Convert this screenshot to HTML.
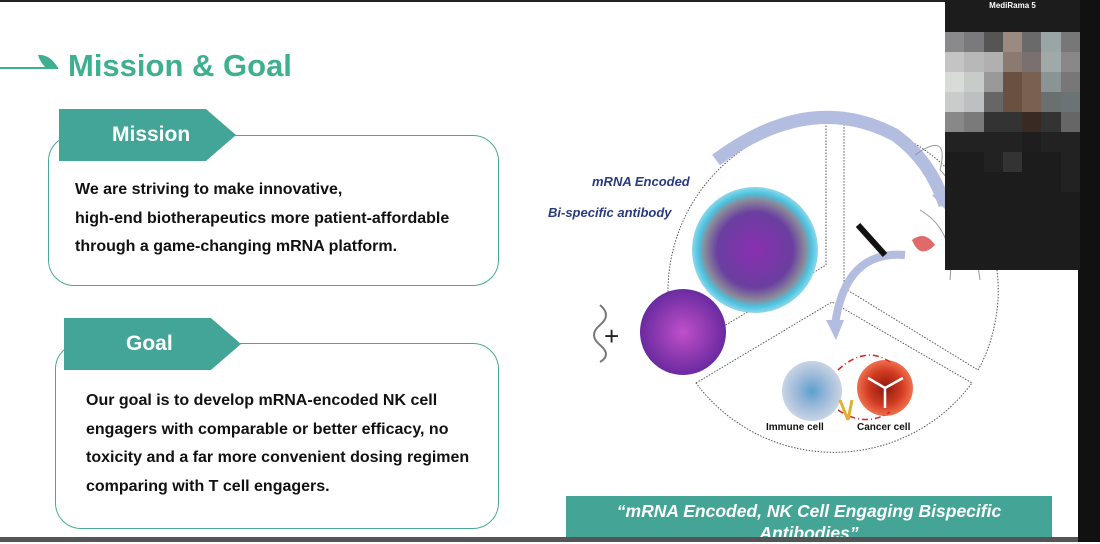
<!DOCTYPE html>
<html><head><meta charset="utf-8"><style>
*{margin:0;padding:0;box-sizing:border-box}
body{width:1100px;height:542px;overflow:hidden;background:#fff;position:relative;font-family:"Liberation Sans",sans-serif}
.abs{position:absolute}
.box{position:absolute;border:1.5px solid #4aa898;border-radius:26px}
.tag{position:absolute;background:#42a597;color:#fff;font-weight:bold;font-size:21px;clip-path:polygon(0 0,83% 0,100% 50%,83% 100%,0 100%);box-shadow:0 2px 4px rgba(0,0,0,.2)}
.txt{position:absolute;font-weight:bold;font-size:16px;color:#111;line-height:28.5px;white-space:nowrap}
</style></head><body>
<div class="abs" style="left:0;top:0;width:1100px;height:2px;background:#222"></div>
<div class="abs" style="left:0;top:67px;width:58px;height:2px;background:#3fb08f"></div>
<svg class="abs" style="left:36px;top:52px" width="24" height="18"><path d="M2 3 Q14 2 22 16 L10 16 Q4 10 2 3Z" fill="#3fb08f"/></svg>
<div class="abs" style="left:68px;top:48px;font-size:31px;font-weight:bold;color:#3fb08f">Mission &amp; Goal</div>

<div class="box" style="left:48px;top:135px;width:451px;height:151px"></div>
<div class="tag" style="left:59px;top:109px;width:177px;height:52px;line-height:52px;padding-left:53px">Mission</div>
<div class="txt" style="left:75px;top:176px">We are striving to make innovative,<br>high-end biotherapeutics more patient-affordable<br>through a game-changing mRNA platform.</div>

<div class="box" style="left:55px;top:343px;width:444px;height:186px"></div>
<div class="tag" style="left:64px;top:318px;width:177px;height:52px;line-height:52px;padding-left:62px">Goal</div>
<div class="txt" style="left:86px;top:387px">Our goal is to develop mRNA-encoded NK cell<br>engagers with comparable or better efficacy, no<br>toxicity and a far more convenient dosing regimen<br>comparing with T cell engagers.</div>

<svg class="abs" style="left:560px;top:100px" width="540" height="400">
<defs>
<radialGradient id="lnp"><stop offset="0" stop-color="#8a2fb0"/><stop offset=".6" stop-color="#6a3fa0"/><stop offset=".8" stop-color="#8a8a9a"/><stop offset=".9" stop-color="#4cc3e0"/><stop offset="1" stop-color="#8fd8ea"/></radialGradient>
<radialGradient id="np"><stop offset="0" stop-color="#c050c8"/><stop offset="1" stop-color="#6a2aa0"/></radialGradient>
<radialGradient id="im"><stop offset="0" stop-color="#5aa0d0"/><stop offset=".5" stop-color="#9ab8d8"/><stop offset="1" stop-color="#c8d4e4"/></radialGradient>
<radialGradient id="ca"><stop offset="0" stop-color="#8a1a10"/><stop offset=".6" stop-color="#d03a20"/><stop offset="1" stop-color="#f07050"/></radialGradient>
</defs>
<g fill="none" stroke="#555" stroke-width="1" stroke-dasharray="1.5 1.5">
<path d="M266 20 A172 172 0 0 0 108 192 Q110 230 124 250 L266 165 Z"/>
<path d="M284 20 A172 172 0 0 1 438 200 Q435 240 418 270 L284 188 Z"/>
<path d="M136 283 L272 202 L412 283 A172 172 0 0 1 136 283 Z"/>
</g>
<path d="M156 60 Q250 -10 335 35 Q370 60 385 105" fill="none" stroke="#b3bde0" stroke-width="13"/>
<path d="M372 95 L395 120 L400 90 Z" fill="#b3bde0"/>
<path d="M345 155 Q285 150 275 225" fill="none" stroke="#b3bde0" stroke-width="8"/>
<path d="M266 220 L276 240 L284 220 Z" fill="#b3bde0"/>
<circle cx="195" cy="150" r="63" fill="url(#lnp)"/>
<circle cx="123" cy="232" r="43" fill="url(#np)"/>
<text x="44" y="245" font-size="26" fill="#222">+</text>
<path d="M40 205 Q52 215 40 225 Q28 235 40 245 Q52 255 40 262" fill="none" stroke="#777" stroke-width="2"/>
<path d="M298 125 L325 155" stroke="#111" stroke-width="6"/>
<path d="M355 55 Q390 30 380 70 Q410 100 420 180 M390 180 Q395 130 360 110" fill="none" stroke="#999"/>
<path d="M352 140 Q365 130 375 145 Q360 160 352 140Z" fill="#e06a6a"/>
<circle cx="252" cy="291" r="30" fill="url(#im)"/>
<circle cx="325" cy="288" r="28" fill="url(#ca)"/>
<path d="M325 288 L308 278 M325 288 L343 278 M325 288 L325 308" stroke="#fff" stroke-width="2.5"/>
<path d="M278 270 Q305 245 330 262 M278 310 Q305 328 330 312" fill="none" stroke="#d22" stroke-width="1.5" stroke-dasharray="6 3 1 3"/>
<path d="M280 300 L288 320 M292 300 L288 320" stroke="#e0b030" stroke-width="3"/>
<text x="206" y="330" font-size="10" font-weight="bold" fill="#111">Immune cell</text>
<text x="297" y="330" font-size="10" font-weight="bold" fill="#111">Cancer cell</text>
</svg>
<div class="abs" style="left:592px;top:174px;font-size:13px;font-style:italic;font-weight:bold;color:#2a3a80">mRNA Encoded</div>
<div class="abs" style="left:548px;top:205px;font-size:13px;font-style:italic;font-weight:bold;color:#2a3a80">Bi-specific antibody</div>

<div class="abs" style="left:566px;top:496px;width:486px;height:46px;background:#44a597;color:#fff;font-style:italic;font-weight:bold;font-size:17.5px;text-align:center;line-height:22px;padding-top:4px">“mRNA Encoded, NK Cell Engaging Bispecific<br>Antibodies”</div>
<div class="abs" style="left:0;top:537px;width:1100px;height:5px;background:#555"></div>

<div class="abs" style="left:1078px;top:0;width:22px;height:542px;background:#111"></div>
<div class="abs" style="left:945px;top:0;width:135px;height:270px;background:#1c1c1c"></div>
<div class="abs" style="left:945px;top:0;width:135px;height:14px;color:#fff;font-size:8px;font-weight:bold;text-align:center;line-height:12px">MediRama 5</div>
<div class="abs" style="left:945px;top:32px;width:135px;height:160px;display:grid;grid-template-columns:repeat(7,1fr);grid-template-rows:repeat(8,1fr)">
<div style="background:#8a8a8c"></div><div style="background:#7a7a7c"></div><div style="background:#555"></div><div style="background:#9a8a80"></div><div style="background:#6a6a6a"></div><div style="background:#9aa6a6"></div><div style="background:#777"></div>
<div style="background:#c4c4c4"></div><div style="background:#b8b8b8"></div><div style="background:#b0b0b0"></div><div style="background:#8a7a70"></div><div style="background:#7a7070"></div><div style="background:#a0a8a8"></div><div style="background:#888"></div>
<div style="background:#d8dcd8"></div><div style="background:#c8ccc8"></div><div style="background:#999"></div><div style="background:#6a5040"></div><div style="background:#7a6050"></div><div style="background:#8a9494"></div><div style="background:#777"></div>
<div style="background:#cacccc"></div><div style="background:#bcc0c0"></div><div style="background:#666"></div><div style="background:#6a5040"></div><div style="background:#7a6050"></div><div style="background:#6a7070"></div><div style="background:#6a7474"></div>
<div style="background:#888"></div><div style="background:#7a7a7a"></div><div style="background:#333"></div><div style="background:#333"></div><div style="background:#3a2a24"></div><div style="background:#333"></div><div style="background:#666"></div>
<div style="background:#222"></div><div style="background:#222"></div><div style="background:#222"></div><div style="background:#222"></div><div style="background:#1e1e1e"></div><div style="background:#222"></div><div style="background:#222"></div>
<div style="background:#1c1c1c"></div><div style="background:#1c1c1c"></div><div style="background:#222"></div><div style="background:#333"></div><div style="background:#1c1c1c"></div><div style="background:#1c1c1c"></div><div style="background:#222"></div>
<div style="background:#1c1c1c"></div><div style="background:#1c1c1c"></div><div style="background:#1c1c1c"></div><div style="background:#1c1c1c"></div><div style="background:#1c1c1c"></div><div style="background:#1c1c1c"></div><div style="background:#222"></div>
</div>
</body></html>
